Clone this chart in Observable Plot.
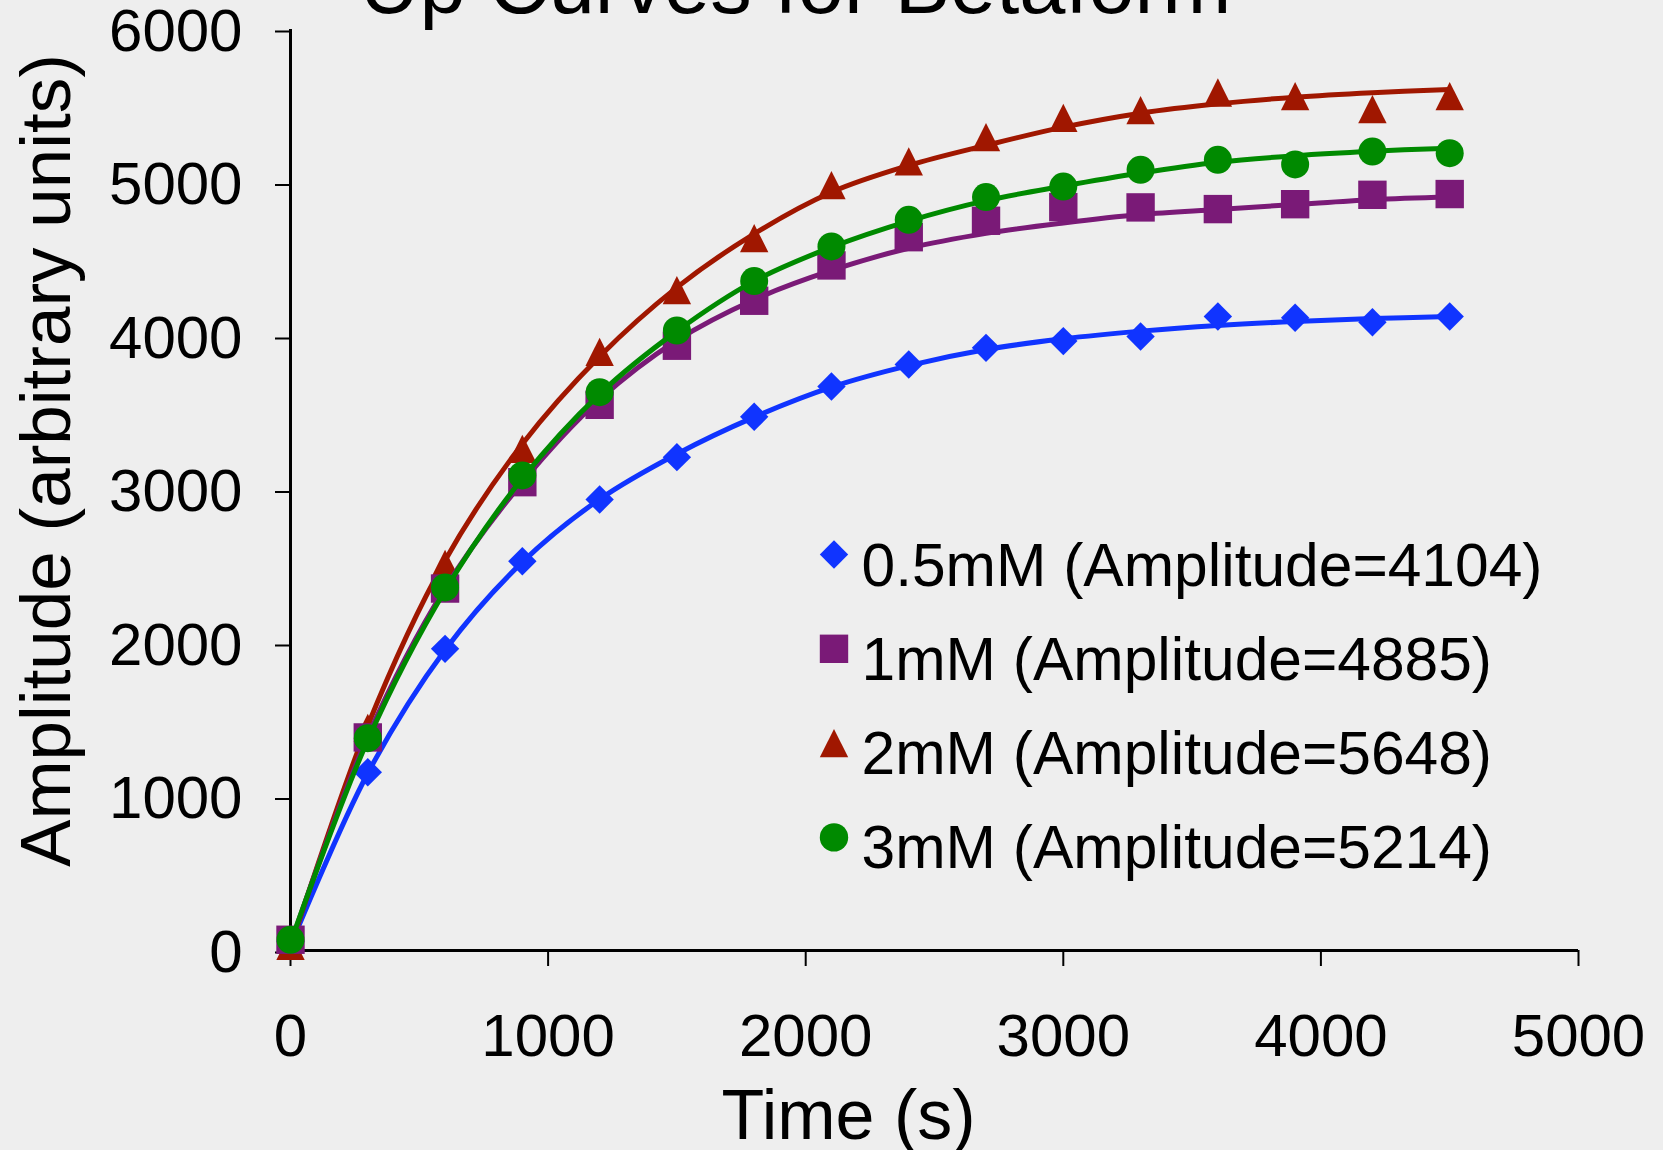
<!DOCTYPE html>
<html>
<head>
<meta charset="utf-8">
<script src="https://cdn.jsdelivr.net/npm/d3@7"></script>
<script src="https://cdn.jsdelivr.net/npm/@observablehq/plot@0.6"></script>
<style>
  html, body { margin: 0; padding: 0; background: #eeeeee; }
  #chart { width: 1663px; height: 1150px; overflow: hidden; }
</style>
</head>
<body>
<div id="chart"></div>
<script>
// ---- Data ----
const titleText = "Up Curves for Betaform";
const xLabel = "Time (s)";
const yLabel = "Amplitude (arbitrary units)";
const times = [0, 300, 600, 900, 1200, 1500, 1800, 2100, 2400, 2700, 3000, 3300, 3600, 3900, 4200, 4500];
const seriesNames = ["0.5mM", "1mM", "2mM", "3mM"];
const legendLabels = ["0.5mM (Amplitude=4104)", "1mM (Amplitude=4885)", "2mM (Amplitude=5648)", "3mM (Amplitude=5214)"];

// measured points
const obs05 = [60, 1161, 1965, 2536, 2938, 3214, 3477, 3674, 3818, 3926, 3970, 4000, 4130, 4122, 4093, 4130];
const obs1  = [70, 1388, 2358, 3051, 3555, 3940, 4233, 4463, 4647, 4754, 4843, 4841, 4830, 4862, 4923, 4928];
const obs2  = [30, 1450, 2519, 3268, 3900, 4302, 4641, 4986, 5141, 5299, 5424, 5475, 5590, 5566, 5481, 5566];
const obs3  = [70, 1383, 2365, 3095, 3637, 4039, 4361, 4587, 4760, 4908, 4977, 5086, 5151, 5121, 5205, 5194];

// fitted curves
const fit05 = [30, 1155, 1958, 2530, 2940, 3235, 3475, 3670, 3810, 3915, 3985, 4035, 4072, 4098, 4117, 4130];
const fit1  = [40, 1395, 2360, 3050, 3590, 3975, 4240, 4430, 4575, 4672, 4740, 4795, 4828, 4860, 4891, 4908];
const fit2  = [20, 1466, 2541, 3300, 3870, 4320, 4669, 4940, 5114, 5245, 5364, 5455, 5516, 5559, 5588, 5609];
const fit3  = [50, 1370, 2345, 3075, 3625, 4035, 4361, 4582, 4752, 4885, 4980, 5065, 5135, 5178, 5207, 5227];

const xTicks = [0, 1000, 2000, 3000, 4000, 5000];
const yTicks = [0, 1000, 2000, 3000, 4000, 5000, 6000];

// ---- Styles ----
const colors = ["#1034ff", "#7a1a77", "#a01700", "#008a00"];
const FONT = "'Liberation Sans', Arial, Helvetica, sans-serif";
const R = 14.2;

const sym = (fn) => ({ draw(ctx, size) { fn(ctx, Math.sqrt(size / Math.PI)); } });
const diamond = sym((c, r) => { c.moveTo(0, -r); c.lineTo(r, 0); c.lineTo(0, r); c.lineTo(-r, 0); c.closePath(); });
const square = sym((c, r) => { c.rect(-r, -r, 2 * r, 2 * r); });
const triangle = sym((c, r) => { c.moveTo(0, -r); c.lineTo(r, r); c.lineTo(-r, r); c.closePath(); });
const symbols = [diamond, square, triangle, "circle"];

const observed = [obs05, obs1, obs2, obs3];
const fitted = [fit05, fit1, fit2, fit3];
const table = (arrs) => seriesNames.map((s, j) => times.map((t, i) => ({ series: s, t, v: arrs[j][i] })));
const obsT = table(observed);
const fitT = table(fitted);

const drawOrder = [0, 2, 1, 3];
const dataMarks = [];
for (const j of drawOrder) {
  dataMarks.push(Plot.line(fitT[j], { x: "t", y: "v", stroke: colors[j], strokeWidth: 5, curve: "catmull-rom", strokeLinejoin: "round" }));
  dataMarks.push(Plot.dot(obsT[j], { x: "t", y: "v", r: j === 3 ? R - 0.2 : R, symbol: symbols[j], fill: colors[j], stroke: "none" }));
}

const legendMarks = [];
legendLabels.forEach((lab, i) => {
  legendMarks.push(Plot.dot([lab], { frameAnchor: "top-left", dx: 543.5, dy: 525 + i * 94.3, r: R, symbol: symbols[i], fill: colors[i], stroke: "none" }));
  legendMarks.push(Plot.text([lab], { frameAnchor: "top-left", text: d => d, dx: 571, dy: 556 + i * 94.3, textAnchor: "start", lineAnchor: "bottom", fontSize: 60.5, fill: "black" }));
});

const chart = Plot.plot({
  width: 1663,
  height: 1150,
  marginTop: 29,
  marginRight: 85,
  marginBottom: 200,
  marginLeft: 290,
  style: { background: "#eeeeee", color: "black", fontFamily: FONT, overflow: "visible" },
  x: { domain: [0, 5000], label: null },
  y: { domain: [0, 6000], label: null },
  marks: [
    Plot.axisX(xTicks, { tickSize: 16, tickPadding: 47, fontSize: 60, strokeWidth: 2, tickFormat: d3.format("d"), label: null }),
    Plot.axisY(yTicks, { tickSize: 15, tickPadding: 33, fontSize: 60, strokeWidth: 2, dy: 2, tickFormat: d3.format("d"), label: null }),
    Plot.ruleX([0], { stroke: "black", strokeWidth: 3 }),
    Plot.ruleY([0], { stroke: "black", strokeWidth: 3 }),
    ...dataMarks,
    ...legendMarks,
    Plot.text([titleText], { frameAnchor: "top", text: d => d, dx: -139, dy: -17, textAnchor: "middle", lineAnchor: "bottom", fontSize: 83, fill: "black" }),
    Plot.text([xLabel], { frameAnchor: "bottom", text: d => d, dx: -86, dy: 188, textAnchor: "middle", lineAnchor: "bottom", fontSize: 70, fill: "black" }),
    Plot.text([yLabel], { frameAnchor: "left", text: d => d, dx: -221, dy: -29.5, rotate: -90, textAnchor: "middle", lineAnchor: "bottom", fontSize: 71, fill: "black" })
  ]
});
document.getElementById("chart").appendChild(chart);
</script>
</body>
</html>
